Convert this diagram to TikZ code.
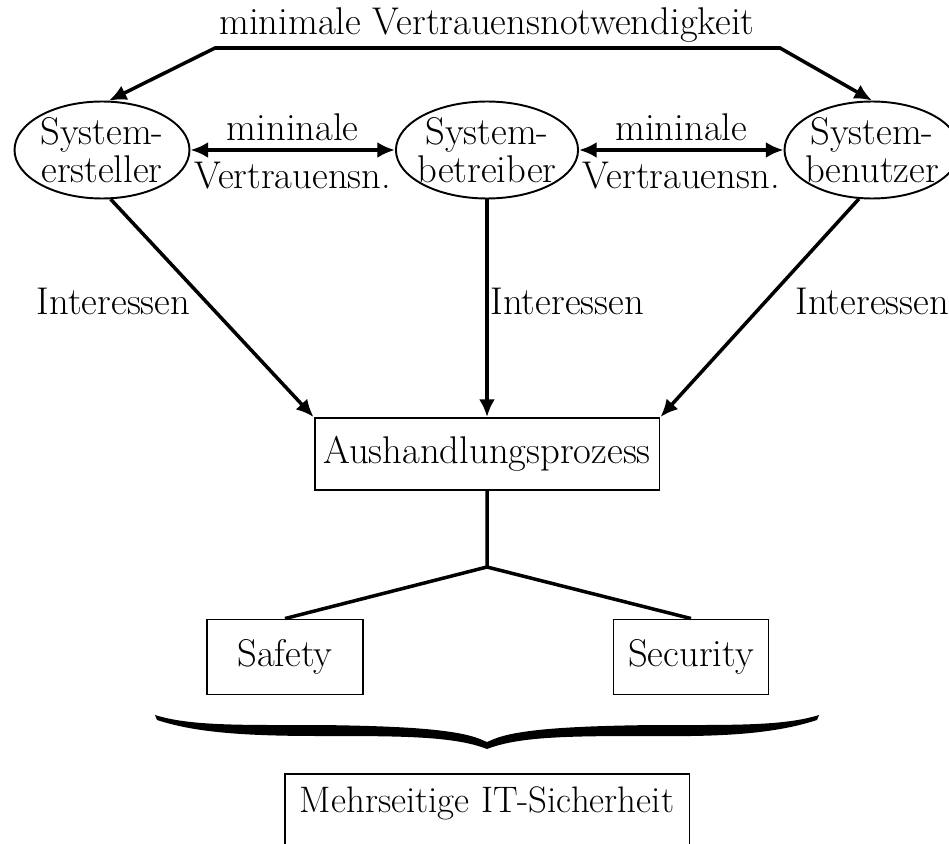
\documentclass[tikz,border=0pt]{standalone}
\usepackage{tikz}
\usetikzlibrary{arrows.meta,shapes.geometric}

\begin{document}
\begin{tikzpicture}[x=0.02cm,y=-0.02cm,
    every node/.style={font=\fontsize{22}{22}\selectfont},
    partei/.style={ellipse,draw,line width=1.1pt,minimum width=3.5cm,minimum height=1.94cm,inner xsep=-3pt,inner ysep=-2pt,align=center},
    kasten/.style={rectangle,draw,line width=1.1pt,inner sep=0pt},
    linie/.style={line width=2pt},
    pfeil/.style={linie,-{Latex[length=10pt,width=9pt]}},
    doppelpfeil/.style={linie,{Latex[length=10pt,width=9pt]}-{Latex[length=10pt,width=9pt]}}]
  \useasboundingbox (0,0) rectangle (949,844);
  % Beteiligte
  \node[partei] (ersteller) at (102,150) {System-\\ersteller};
  \node[partei] (betreiber) at (487,150) {System-\\betreiber};
  \node[partei] (benutzer) at (872,150) {System-\\benutzer};
  % minimale Vertrauensnotwendigkeit
  \node (titel) at (487,25) {minimale Vertrauensnotwendigkeit};
  \coordinate (knickL) at (215,48);
  \coordinate (knickR) at (780,48);
  \draw[doppelpfeil] (ersteller.82) -- (knickL) -- (knickR) -- (benutzer.north);
  \draw[doppelpfeil] (ersteller.east) -- node[above=4pt,inner sep=0pt] {mininale} node[below=6pt,inner sep=0pt] {Vertrauensn.} (betreiber.west);
  \draw[doppelpfeil] (betreiber.east) -- node[above=4pt,inner sep=0pt] {mininale} node[below=6pt,inner sep=0pt] {Vertrauensn.} (benutzer.west);
  % Aushandlung
  \node[kasten,minimum width=6.9cm,minimum height=1.44cm] (aushandlung) at (487,454) {Aushandlungsprozess};
  \draw[pfeil] (ersteller.-80) -- node[pos=.47,anchor=east,inner sep=8pt] {Interessen} (aushandlung.north west);
  \draw[pfeil] (betreiber.south) -- node[pos=.47,anchor=west,inner sep=1pt] {Interessen} (aushandlung.north);
  \draw[pfeil] (benutzer.-105) -- node[pos=.47,anchor=west,inner sep=16pt] {Interessen} (aushandlung.north east);
  % Safety / Security
  \node[kasten,minimum width=3.12cm,minimum height=1.5cm] (safety) at (285,657) {Safety};
  \node[kasten,minimum width=3.1cm,minimum height=1.5cm] (security) at (691,657) {Security};
  \coordinate (gabel) at (487,567);
  \draw[linie] (aushandlung.south) -- (gabel) -- (safety.north);
  \draw[linie] (gabel) -- (security.north);
  % Klammer
  \fill (155,715) .. controls (190,726) and (240,725) .. (320,725)
        .. controls (400,726) and (455,729) .. (480,739) -- (487,742) -- (494,739)
        .. controls (519,729) and (574,726) .. (654,725)
        .. controls (734,725) and (784,726) .. (819,715)
        -- (817,720) .. controls (780,732) and (734,737) .. (654,736)
        .. controls (574,736) and (520,736) .. (487,749)
        .. controls (454,736) and (400,736) .. (320,736)
        .. controls (240,736) and (194,732) .. (157,720) -- cycle;
  \node[kasten,anchor=north,inner xsep=0pt,inner ysep=7pt,minimum width=8.1cm,text depth=30pt,font=\fontsize{21}{21}\selectfont] (mehrseitig) at (487,773) {Mehrseitige IT-Sicherheit};
\end{tikzpicture}
\end{document}
